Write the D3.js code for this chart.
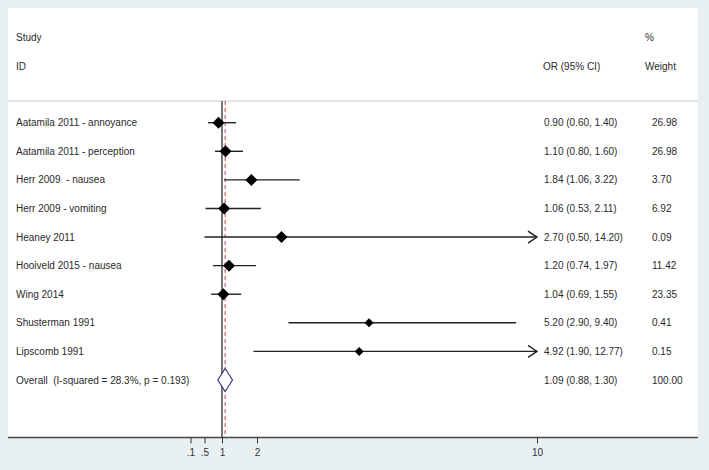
<!DOCTYPE html>
<html><head><meta charset="utf-8">
<script src="https://cdn.jsdelivr.net/npm/d3@7"></script>
<style>
body{margin:0;background:#e8f0f3;}
text{font-family:Arial,"Liberation Sans",sans-serif;white-space:pre;}
</style></head>
<body><svg id="c" width="709" height="470"></svg>
<script>
const studies = ["Aatamila 2011 - annoyance","Aatamila 2011 - perception","Herr 2009  - nausea","Herr 2009 - vomiting","Heaney 2011","Hooiveld 2015 - nausea","Wing 2014","Shusterman 1991","Lipscomb 1991"];
const orValues = [0.90,1.10,1.84,1.06,2.70,1.20,1.04,5.20,4.92];
const ciLow = [0.60,0.80,1.06,0.53,0.50,0.74,0.69,2.90,1.90];
const ciHigh = [1.40,1.60,3.22,2.11,14.20,1.97,1.55,9.40,12.77];
const weights = ["26.98","26.98","3.70","6.92","0.09","11.42","23.35","0.41","0.15"];
const overallLabel = "Overall  (I-squared = 28.3%, p = 0.193)";
const overall = {or:1.09, lo:0.88, hi:1.30, weight:"100.00"};
const tickValues = [0.1,0.5,1,2,10];
const tickLabels = [".1",".5","1","2","10"];

const svg = d3.select("#c");
const pLeft=8,pRight=698,pTop=8,axisY=437.5,headerLine=101;
svg.append("rect").attr("x",pLeft).attr("y",pTop).attr("width",pRight-pLeft).attr("height",axisY-pTop).attr("fill","#fff");

const x = d3.scaleLinear().domain([0,10]).range([187,537]);
const xMax = 10;
const nRows = studies.length+1;
const y = d3.scaleLinear().domain([0,nRows-1]).range([122.7,380]);
const fmt = d3.format(".2f");
const txt = "#2a2a2a";
const fs = "10px";

// headers
svg.append("text").attr("x",16).attr("y",37).attr("dy","0.35em").attr("font-size",fs).attr("fill",txt).text("Study");
svg.append("text").attr("x",16).attr("y",66).attr("dy","0.35em").attr("font-size",fs).attr("fill",txt).text("ID");
svg.append("text").attr("x",543).attr("y",66).attr("dy","0.35em").attr("font-size",fs).attr("fill",txt).text("OR (95% CI)");
svg.append("text").attr("x",645).attr("y",37).attr("dy","0.35em").attr("font-size",fs).attr("fill",txt).text("%");
svg.append("text").attr("x",645).attr("y",66).attr("dy","0.35em").attr("font-size",fs).attr("fill",txt).text("Weight");
svg.append("line").attr("x1",pLeft).attr("x2",pRight).attr("y1",headerLine).attr("y2",headerLine).attr("stroke","#c8c8c8").attr("stroke-width",1);

// null line and overall line
svg.append("line").attr("x1",x(1)).attr("x2",x(1)).attr("y1",headerLine).attr("y2",axisY).attr("stroke","#4a4a4a").attr("stroke-width",1.5);
svg.append("line").attr("x1",x(overall.or)).attr("x2",x(overall.or)).attr("y1",headerLine).attr("y2",axisY).attr("stroke","#b24a4a").attr("stroke-width",1).attr("stroke-dasharray","4,3");

// rows
studies.forEach((s,i)=>{
  const yy=y(i);
  svg.append("text").attr("x",16).attr("y",yy).attr("dy","0.35em").attr("font-size",fs).attr("fill",txt).attr("xml:space","preserve").text(s);
  const hi=Math.min(ciHigh[i],xMax);
  svg.append("line").attr("x1",x(ciLow[i])).attr("x2",x(hi)).attr("y1",yy).attr("y2",yy).attr("stroke","#222").attr("stroke-width",1.4);
  if(ciHigh[i]>xMax){
    const xe=x(xMax);
    svg.append("path").attr("d",`M${xe-9},${yy-6}L${xe},${yy}L${xe-9},${yy+6}`).attr("fill","none").attr("stroke","#222").attr("stroke-width",1.4);
  }
  const r = (weights[i]==="0.41"||weights[i]==="0.15")?4.5:6;
  const cx=x(orValues[i]);
  svg.append("path").attr("d",`M${cx-r},${yy}L${cx},${yy-r}L${cx+r},${yy}L${cx},${yy+r}Z`).attr("fill","#000");
  svg.append("text").attr("x",544).attr("y",yy).attr("dy","0.35em").attr("font-size",fs).attr("fill",txt)
    .text(`${fmt(orValues[i])} (${fmt(ciLow[i])}, ${fmt(ciHigh[i])})`);
  svg.append("text").attr("x",652).attr("y",yy).attr("dy","0.35em").attr("font-size",fs).attr("fill",txt).text(weights[i]);
});

// overall
const oy=y(nRows-1);
svg.append("text").attr("x",16).attr("y",oy).attr("dy","0.35em").attr("font-size",fs).attr("fill",txt).attr("xml:space","preserve").text(overallLabel);
svg.append("path").attr("d",`M${x(overall.lo)},${oy}L${x(overall.or)},${oy-11.5}L${x(overall.hi)},${oy}L${x(overall.or)},${oy+11.5}Z`)
  .attr("fill","#fff").attr("stroke","#2a2a8a").attr("stroke-width",1.1);
svg.append("text").attr("x",544).attr("y",oy).attr("dy","0.35em").attr("font-size",fs).attr("fill",txt)
  .text(`${fmt(overall.or)} (${fmt(overall.lo)}, ${fmt(overall.hi)})`);
svg.append("text").attr("x",652).attr("y",oy).attr("dy","0.35em").attr("font-size",fs).attr("fill",txt).text(overall.weight);

// axis
const ax = svg.append("g").attr("transform",`translate(0,${axisY})`)
  .call(d3.axisBottom(x).tickValues(tickValues).tickFormat((d,i)=>tickLabels[i]).tickSize(6).tickSizeOuter(0));
ax.select(".domain").remove();
ax.selectAll(".tick line").attr("stroke","#333").attr("stroke-width",1);
ax.selectAll(".tick text").attr("font-size","10px").attr("fill","#333").attr("font-family","Arial, 'Liberation Sans', sans-serif").attr("dy","0.9em");
svg.append("line").attr("x1",pLeft).attr("x2",pRight).attr("y1",axisY).attr("y2",axisY).attr("stroke","#444").attr("stroke-width",1.5);
</script></body></html>
